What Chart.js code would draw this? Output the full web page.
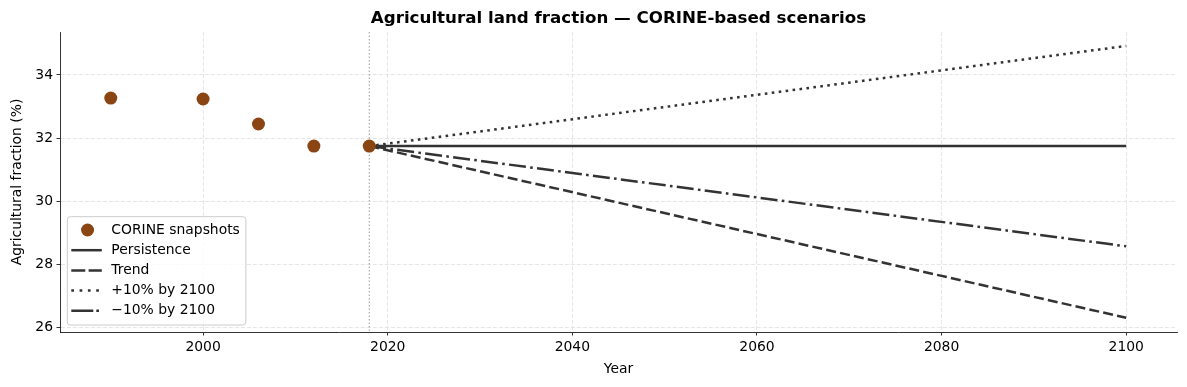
<!DOCTYPE html>
<html>
<head>
<meta charset="utf-8">
<script src="https://cdn.jsdelivr.net/npm/chart.js@4"></script>
<style>
  body { margin: 0; background: #fff; }
  #wrap { width: 1187px; height: 387px; }
</style>
</head>
<body>
<div id="wrap"><canvas id="myChart" width="1187" height="387"></canvas></div>
<script>
// observed CORINE snapshots
const snapYears = [1990, 2000, 2006, 2012, 2018];
const snapValues = [33.27, 33.24, 32.45, 31.75, 31.75];

// scenario projections (start, end)
const scenYears = [2018, 2100];
const persistence = [31.75, 31.75];
const trend = [31.75, 26.32];
const plus10 = [31.75, 34.92];
const minus10 = [31.75, 28.58];

const xTicks = [2000, 2020, 2040, 2060, 2080, 2100];
const yTicks = [26, 28, 30, 32, 34];
const baseYear = 2018;

const lineColor = "#333333";
const toPoints = (xs, ys) => xs.map((x, i) => ({ x: x, y: ys[i] }));

Chart.defaults.font.family = "'DejaVu Sans', sans-serif";
Chart.defaults.font.size = 13.9;
Chart.defaults.color = "#000";

// chart title drawn centred over the plot area
const titlePlugin = {
  id: "titlePlugin",
  afterDraw(chart) {
    const c = chart.ctx;
    const a = chart.chartArea;
    c.save();
    c.font = "bold 16.7px 'DejaVu Sans', sans-serif";
    c.fillStyle = "#000";
    c.textAlign = "center";
    c.textBaseline = "middle";
    c.fillText("Agricultural land fraction \u2014 CORINE-based scenarios", (a.left + a.right) / 2, 18.5);
    c.restore();
  },
};

// dotted vertical marker at the last snapshot year
const baseLine = {
  id: "baseLine",
  beforeDatasetsDraw(chart) {
    const c = chart.ctx;
    const a = chart.chartArea;
    const x = chart.scales.x.getPixelForValue(baseYear);
    c.save();
    c.strokeStyle = "rgba(120,120,120,0.75)";
    c.lineWidth = 1;
    c.setLineDash([1.5, 2]);
    c.beginPath();
    c.moveTo(x, a.top);
    c.lineTo(x, a.bottom);
    c.stroke();
    c.restore();
  },
};

// legend box inside the lower-left corner, matplotlib style
const legendBox = {
  id: "legendBox",
  afterDraw(chart) {
    const c = chart.ctx;
    const a = chart.chartArea;
    const sets = chart.data.datasets;
    c.save();
    c.font = "13.9px 'DejaVu Sans', sans-serif";
    let maxW = 0;
    sets.forEach((d) => { maxW = Math.max(maxW, c.measureText(d.label).width); });
    const rowH = 20.2;
    const h = 108.3;
    const bx = a.left + 7.3;
    const by = a.bottom - 7 - h;
    const w = 44 + maxW + 6;

    c.fillStyle = "rgba(255,255,255,0.8)";
    c.strokeStyle = "#cccccc";
    c.lineWidth = 1;
    c.beginPath();
    c.roundRect(bx, by, w, h, 3);
    c.fill();
    c.stroke();

    const hx0 = bx + 4;
    const hx1 = bx + 34.5;
    sets.forEach((d, i) => {
      const cy = by + 13.3 + i * rowH;
      if (d.showLine) {
        c.strokeStyle = d.borderColor;
        c.lineWidth = d.borderWidth;
        c.setLineDash(d.legendDash || []);
        c.beginPath();
        c.moveTo(hx0, cy);
        c.lineTo(hx1, cy);
        c.stroke();
        c.setLineDash([]);
      } else {
        c.fillStyle = d.backgroundColor;
        c.beginPath();
        c.arc((hx0 + hx1) / 2 + 1, cy, d.pointRadius, 0, Math.PI * 2);
        c.fill();
      }
      c.fillStyle = "#000";
      c.textAlign = "left";
      c.textBaseline = "middle";
      c.fillText(d.label, bx + 44, cy);
    });
    c.restore();
  },
};

const ctx = document.getElementById("myChart");

new Chart(ctx, {
  type: "scatter",
  data: {
    datasets: [
      {
        label: "CORINE snapshots",
        data: toPoints(snapYears, snapValues),
        backgroundColor: "#8B4513",
        borderWidth: 0,
        pointRadius: 6.5,
        pointHoverRadius: 6.5,
      },
      {
        label: "Persistence",
        data: toPoints(scenYears, persistence),
        showLine: true,
        borderColor: lineColor,
        borderWidth: 2.5,
        pointRadius: 0,
        legendDash: [],
      },
      {
        label: "Trend",
        data: toPoints(scenYears, trend),
        showLine: true,
        borderColor: lineColor,
        borderWidth: 2.5,
        borderDash: [10, 4.2],
        pointRadius: 0,
        legendDash: [14, 3.3],
      },
      {
        label: "+10% by 2100",
        data: toPoints(scenYears, plus10),
        showLine: true,
        borderColor: lineColor,
        borderWidth: 2.5,
        borderDash: [2.6, 4.4],
        pointRadius: 0,
        legendDash: [2.7, 5.6],
      },
      {
        label: "\u221210% by 2100",
        data: toPoints(scenYears, minus10),
        showLine: true,
        borderColor: lineColor,
        borderWidth: 2.5,
        borderDash: [17, 4.3, 2.6, 4.3],
        pointRadius: 0,
        legendDash: [22, 3, 2.7, 3],
      },
    ],
  },
  options: {
    responsive: false,
    animation: false,
    layout: { padding: { left: 0, top: 32, right: 10, bottom: 0 } },
    plugins: {
      legend: { display: false },
      title: { display: false },
      tooltip: { enabled: false },
    },
    scales: {
      x: {
        type: "linear",
        min: 1984.5,
        max: 2105.5,
        afterFit: (s) => { s.height = 55; },
        afterBuildTicks: (s) => { s.ticks = xTicks.map((v) => ({ value: v })); },
        ticks: {
          padding: 3.5,
          color: "#000",
          callback: (v) => String(v),
        },
        grid: {
          color: "#e0e0e0",
          lineWidth: 0.8,
          tickLength: 3.5,
          tickColor: "#000",
          tickWidth: 0.8,
          tickBorderDash: [],
        },
        border: { color: "#000", width: 0.8, dash: [4, 2] },
        title: {
          display: true,
          text: "Year",
          color: "#000",
          padding: { top: 0, bottom: 9 },
        },
      },
      y: {
        min: 25.87,
        max: 35.36,
        afterFit: (s) => { s.width = 60; },
        afterBuildTicks: (s) => { s.ticks = yTicks.map((v) => ({ value: v })); },
        ticks: {
          padding: 3.5,
          color: "#000",
          callback: (v) => String(v),
        },
        grid: {
          color: "#e0e0e0",
          lineWidth: 0.8,
          tickLength: 3.5,
          tickColor: "#000",
          tickWidth: 0.8,
          tickBorderDash: [],
        },
        border: { color: "#000", width: 0.8, dash: [4, 2] },
        title: {
          display: true,
          text: "Agricultural fraction (%)",
          color: "#000",
          padding: { top: 9, bottom: 0 },
        },
      },
    },
  },
  plugins: [baseLine, titlePlugin, legendBox],
});
</script>
</body>
</html>
